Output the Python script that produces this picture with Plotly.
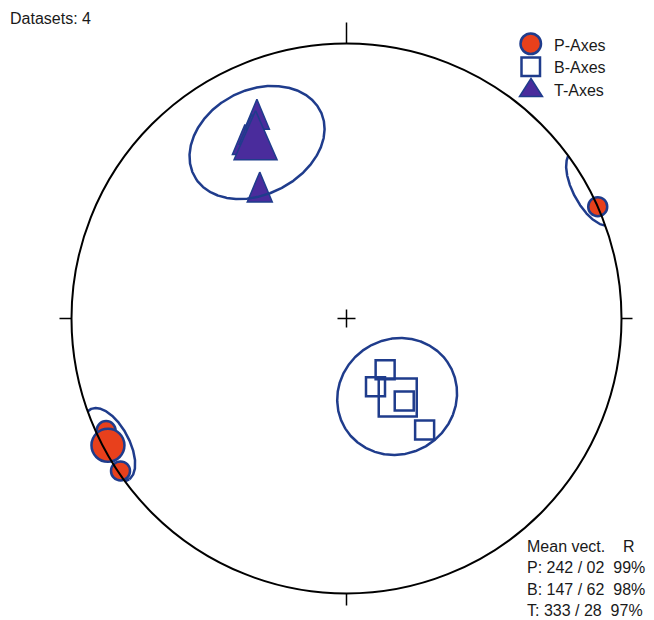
import numpy as np
import plotly.graph_objects as go

# P / B / T axes of the 4 datasets, trend / plunge in degrees
p_trend = [66, 236, 245, 242]
p_plunge = [0, 1, 4, 3]
b_trend = [143, 157, 145, 145]
b_plunge = [71, 68, 60, 49]
t_trend = [336, 333, 330, 326]
t_plunge = [21, 25, 27, 43]

# mean vectors, R and confidence cone half-angles
mean_names = ['P', 'B', 'T']
mean_trend = [242, 147, 333]
mean_plunge = [2, 62, 28]
mean_r = [99, 98, 97]
cone_alpha = [8.5, 17.5, 18]

legend_labels = ['P-Axes', 'B-Axes', 'T-Axes']
n_datasets = 4

RED = '#E8401C'
BLUE = '#1F3C8C'
PURPLE = '#4A2C9C'
FONT = 'Liberation Sans, Arial, sans-serif'
R_PX = 275.0  # primitive radius in pixels
W, H = 654, 620


def schmidt(trend, plunge):
    # lower hemisphere equal-area projection
    t = np.radians(np.asarray(trend, float))
    p = np.radians(np.asarray(plunge, float))
    r = np.sqrt(2) * np.sin((np.pi / 2 - p) / 2)
    return r * np.sin(t), r * np.cos(t)


def cone(trend, plunge, alpha):
    t, p, a = np.radians([trend, plunge, alpha])
    m = np.array([np.cos(p) * np.cos(t), np.cos(p) * np.sin(t), np.sin(p)])
    u = np.cross(m, [0, 0, 1])
    if np.linalg.norm(u) < 1e-6:
        u = np.array([1.0, 0, 0])
    u = u / np.linalg.norm(u)
    v = np.cross(m, u)
    xs, ys = [], []
    prev = None
    for phi in np.linspace(0, 2 * np.pi, 721):
        n, e, d = np.cos(a) * m + np.sin(a) * (np.cos(phi) * u + np.sin(phi) * v)
        flip = d < 0
        if flip:
            n, e, d = -n, -e, -d
        if prev is not None and flip != prev:
            xs.append(None)
            ys.append(None)
        prev = flip
        x, y = schmidt(np.degrees(np.arctan2(e, n)), np.degrees(np.arcsin(min(d, 1.0))))
        xs.append(float(x))
        ys.append(float(y))
    return xs, ys


def triangles(trend, plunge, w_px, h_px):
    x, y = schmidt(trend, plunge)
    w, h = w_px / R_PX, h_px / R_PX
    xs, ys = [], []
    for cx, cy in zip(np.atleast_1d(x), np.atleast_1d(y)):
        xs += [cx, cx + w / 2, cx - w / 2, cx, None]
        ys += [cy + 0.6 * h, cy - 0.4 * h, cy - 0.4 * h, cy + 0.6 * h, None]
    return xs, ys


fig = go.Figure()

# P axes
px_, py_ = schmidt(p_trend, p_plunge)
fig.add_trace(go.Scatter(x=px_, y=py_, mode='markers', showlegend=False,
                         marker=dict(size=19, color=RED, line=dict(color=BLUE, width=2.5))))
mx, my = schmidt(mean_trend[0], mean_plunge[0])
fig.add_trace(go.Scatter(x=[mx], y=[my], mode='markers', showlegend=False,
                         marker=dict(size=33, color=RED, line=dict(color=BLUE, width=2.5))))

# B axes
bx, by = schmidt(b_trend, b_plunge)
fig.add_trace(go.Scatter(x=bx, y=by, mode='markers', showlegend=False,
                         marker=dict(size=19, symbol='square-open', color=BLUE,
                                     line=dict(color=BLUE, width=2.5))))
mx, my = schmidt(mean_trend[1], mean_plunge[1])
fig.add_trace(go.Scatter(x=[mx], y=[my], mode='markers', showlegend=False,
                         marker=dict(size=38, symbol='square-open', color=BLUE,
                                     line=dict(color=BLUE, width=2.5))))

# T axes (tall triangles)
tx, ty = triangles(t_trend, t_plunge, 25, 30)
fig.add_trace(go.Scatter(x=tx, y=ty, mode='lines', fill='toself', fillcolor=PURPLE,
                         line=dict(color=BLUE, width=1.5), showlegend=False))
tx, ty = triangles(mean_trend[2], mean_plunge[2], 43, 49)
fig.add_trace(go.Scatter(x=tx, y=ty, mode='lines', fill='toself', fillcolor=PURPLE,
                         line=dict(color=BLUE, width=1.5), showlegend=False))

# confidence cones
for tr, pl, al in zip(mean_trend, mean_plunge, cone_alpha):
    cx, cy = cone(tr, pl, al)
    fig.add_trace(go.Scatter(x=cx, y=cy, mode='lines', showlegend=False,
                             line=dict(color=BLUE, width=2.5)))

# primitive circle, ticks and centre cross
shapes = [dict(type='circle', x0=-1, y0=-1, x1=1, y1=1, line=dict(color='black', width=2))]
tick = [((0, 1), (0, 1 + 21 / R_PX)), ((-1, 0), (-1 - 12 / R_PX, 0)),
        ((1, 0), (1 + 11 / R_PX, 0)), ((0, -1), (0, -1 - 12 / R_PX))]
for (x0, y0), (x1, y1) in tick:
    shapes.append(dict(type='line', x0=x0, y0=y0, x1=x1, y1=y1,
                       line=dict(color='black', width=1.5)))
c = 9 / R_PX
shapes.append(dict(type='line', x0=-c, y0=0, x1=c, y1=0, line=dict(color='black', width=1.5)))
shapes.append(dict(type='line', x0=0, y0=-c, x1=0, y1=c, line=dict(color='black', width=1.5)))


# legend swatches (pixel positions turned into paper coords)
def px(x):
    return x / W


def py(y):
    return 1 - y / H


shapes.append(dict(type='circle', xref='paper', yref='paper',
                   x0=px(520.5), x1=px(541), y0=py(54), y1=py(33.5),
                   fillcolor=RED, line=dict(color=BLUE, width=2.5)))
shapes.append(dict(type='rect', xref='paper', yref='paper',
                   x0=px(521.5), x1=px(540), y0=py(76), y1=py(57.5),
                   fillcolor='white', line=dict(color=BLUE, width=2.5)))
shapes.append(dict(type='path', xref='paper', yref='paper',
                   path='M %f,%f L %f,%f L %f,%f Z' % (px(531), py(78.5), px(542.5), py(96.5),
                                                        px(519.5), py(96.5)),
                   fillcolor=PURPLE, line=dict(color=BLUE, width=1.5)))

annotations = [dict(text='Datasets: %d' % n_datasets, xref='paper', yref='paper',
                    x=px(8), y=py(18), xanchor='left', yanchor='middle',
                    showarrow=False, font=dict(size=16))]
for lab, yy in zip(legend_labels, [45, 68, 90.5]):
    annotations.append(dict(text=lab, xref='paper', yref='paper', x=px(552), y=py(yy),
                            xanchor='left', yanchor='middle', showarrow=False,
                            font=dict(size=16)))
lines = ['Mean vect.\u00a0\u00a0\u00a0\u00a0R']
for nm, tr, pl, r in zip(mean_names, mean_trend, mean_plunge, mean_r):
    lines.append('%s: %03d / %02d\u00a0\u00a0%d%%' % (nm, tr, pl, r))
for i, txt in enumerate(lines):
    annotations.append(dict(text=txt, xref='paper', yref='paper',
                            x=px(525), y=py(546 + 21.5 * i),
                            xanchor='left', yanchor='middle', showarrow=False,
                            font=dict(size=16)))

cx0, cy0 = 346.5, 318.5
fig.update_layout(
    width=W, height=H,
    margin=dict(l=0, r=0, t=0, b=0),
    paper_bgcolor='white', plot_bgcolor='white',
    font=dict(family=FONT, size=16, color='#1a1a1a'),
    xaxis=dict(range=[-cx0 / R_PX, (W - cx0) / R_PX], visible=False, fixedrange=True),
    yaxis=dict(range=[-(H - cy0) / R_PX, cy0 / R_PX], visible=False, fixedrange=True),
    showlegend=False,
    shapes=shapes,
    annotations=annotations,
)

fig.write_html('out.html', config={'displayModeBar': False},
               post_script="document.body.style.margin='0';")
